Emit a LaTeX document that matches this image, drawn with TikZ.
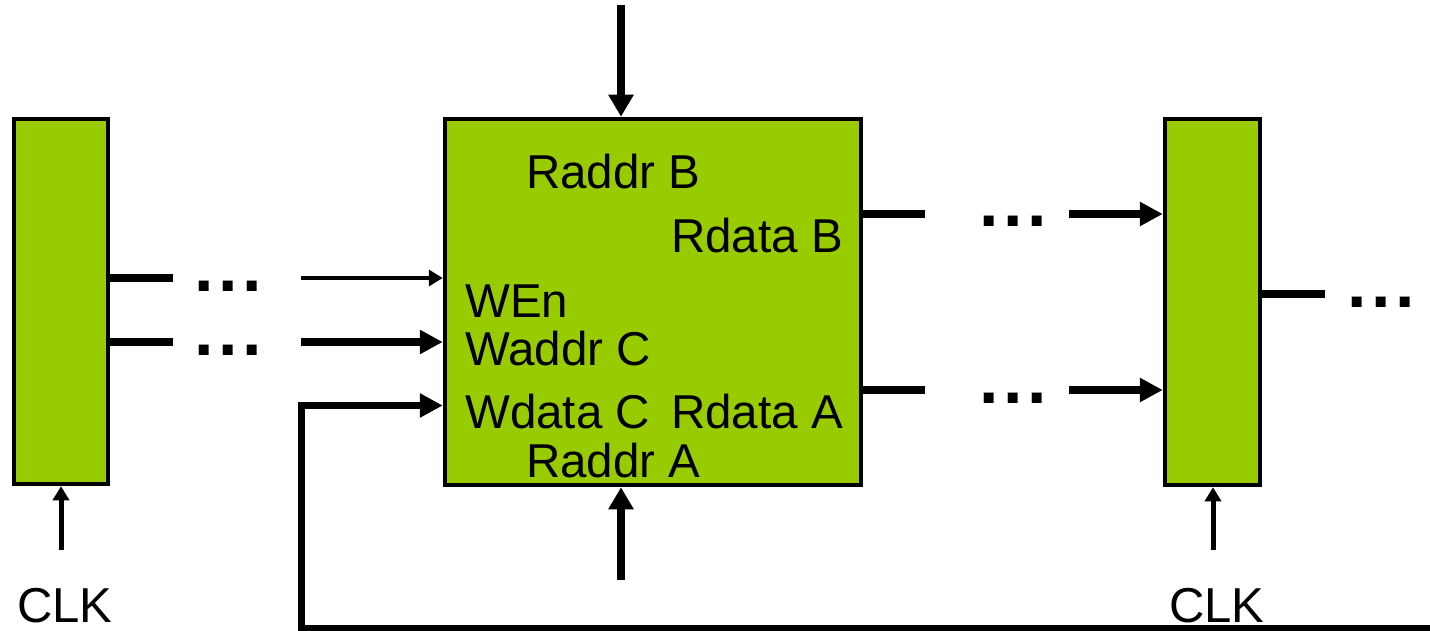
\documentclass[tikz,border=0pt]{standalone}
\usepackage{fontspec}
\setmainfont{Liberation Sans}
\usetikzlibrary{arrows.meta}
\definecolor{regfill}{RGB}{153,204,0}
\begin{document}
\begin{tikzpicture}[x=1pt,y=-1pt,
  reg/.style={draw=black, fill=regfill, line width=4.5pt, inner sep=0pt},
  lbl/.style={anchor=base west, inner sep=0pt, font=\fontsize{47.5}{47.5}\selectfont},
  clk/.style={anchor=base west, inner sep=0pt, font=\fontsize{49}{49}\selectfont},
  dots/.style={anchor=base west, inner sep=0pt, font=\fontsize{70}{70}\selectfont\bfseries},
  bus/.style={line width=7.5pt},
  thinbus/.style={line width=4.7pt},
  clkwire/.style={line width=5pt},
  bigtip/.style={-{Triangle[length=23pt,width=23pt]}},
  vtip/.style={-{Triangle[length=22pt,width=24pt]}},
  smalltip/.style={-{Triangle[length=14pt,width=16pt]}},
]
\useasboundingbox (0,0) rectangle (1430,631);

% registers and register file
\node[reg, minimum width=94pt, minimum height=365pt] (L) at (61,301.5) {};
\node[reg, minimum width=416pt, minimum height=366pt] (M) at (653,302) {};
\node[reg, minimum width=95pt, minimum height=366pt] (R) at (1212.5,302) {};

% port labels
\node[lbl] (raddrB) at (526,189) {Raddr B};
\node[lbl] (rdataB) at (671,253) {Rdata B};
\node[lbl] (wen)    at (465,317) {WEn};
\node[lbl] (waddrC) at (465,365) {Waddr C};
\node[lbl] (wdataC) at (465,428) {Wdata C};
\node[lbl] (rdataA) at (671,428) {Rdata A};
\node[lbl] (raddrA) at (526,477) {Raddr A};

% clock labels
\node[clk] (clkL) at (17,622) {CLK};
\node[clk] (clkR) at (1169,622) {CLK};

% elided logic
\node[dots] (dWen)  at (194,291) {.\kern4.5pt.\kern4.5pt.};
\node[dots] (dWad)  at (194,355) {.\kern4.5pt.\kern4.5pt.};
\node[dots] (dRdB)  at (979,227) {.\kern4.5pt.\kern4.5pt.};
\node[dots] (dRdA)  at (979,403) {.\kern4.5pt.\kern4.5pt.};
\node[dots] (dOut)  at (1347,307) {.\kern4.5pt.\kern4.5pt.};

% write enable path
\coordinate (wenA) at (173,278);
\coordinate (wenB) at (301,278);
\draw[bus] (L.east |- wenA) -- (wenA);
\draw[thinbus, smalltip] (wenB) -- (M.west |- wenB);

% write address path
\coordinate (wadA) at (173,342);
\coordinate (wadB) at (301,342);
\draw[bus] (L.east |- wadA) -- (wadA);
\draw[bus, bigtip] (wadB) -- (M.west |- wadB);

% read address ports
\coordinate (topIn) at (621,5);
\draw[bus, vtip] (topIn) -- (M.north -| topIn);
\coordinate (botIn) at (621,580);
\draw[bus, vtip] (botIn) -- (M.south -| botIn);

% read data B
\coordinate (rbA) at (925,214);
\coordinate (rbB) at (1069,214);
\draw[bus] (M.east |- rbA) -- (rbA);
\draw[bus, bigtip] (rbB) -- (R.west |- rbB);

% read data A
\coordinate (raA) at (925,390);
\coordinate (raB) at (1069,390);
\draw[bus] (M.east |- raA) -- (raA);
\draw[bus, bigtip] (raB) -- (R.west |- raB);

% register output
\coordinate (outA) at (1325,294);
\draw[bus] (R.east |- outA) -- (outA);

% write data feedback loop
\coordinate (fbEnd) at (1430,628);
\coordinate (fbCorner) at (301.5,628);
\coordinate (fbY) at (0,405.5);
\draw[line width=6.5pt, bigtip] (fbEnd) -- (fbCorner) |- (M.west |- fbY);

% clocks
\coordinate (clkLin) at (61,550);
\coordinate (clkRin) at (1213,550);
\draw[clkwire, smalltip] (clkLin) -- (L.south -| clkLin);
\draw[clkwire, smalltip] (clkRin) -- (R.south -| clkRin);
\end{tikzpicture}
\end{document}
